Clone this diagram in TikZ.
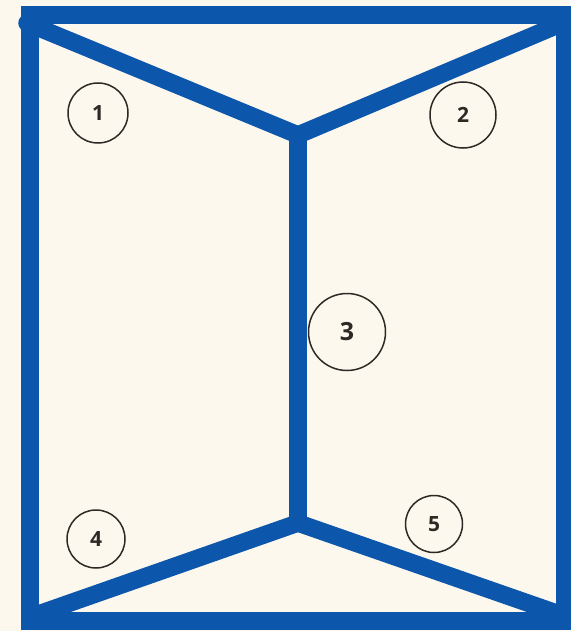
\documentclass[tikz,border=0pt]{standalone}
\usepackage{fontspec}
\setsansfont{Open Sans}
\usetikzlibrary{positioning}
\definecolor{frameBlue}{RGB}{12, 86, 172}
\definecolor{paper}{RGB}{253, 248, 238}
\definecolor{ink}{RGB}{45, 42, 38}

\begin{document}
\begin{tikzpicture}[x=1pt, y=-1pt,
    wall/.style={line width=17.5pt, frameBlue},
    num/.style={circle, draw=ink, line width=1.5pt, inner sep=0pt, text=ink,
                font=\sffamily\bfseries\fontsize{21}{21}\selectfont}]
  % Paper
  \fill[paper] (0,0) rectangle (570,631);
  \useasboundingbox (0,0) rectangle (570,631);

  % Corners and junctions
  \coordinate (tl) at (30,15);
  \coordinate (tr) at (565,15);
  \coordinate (bl) at (30,621);
  \coordinate (br) at (565,621);
  \coordinate (jt) at (298,135);
  \coordinate (jb) at (298,523);

  % Inner walls
  \draw[wall, line cap=round] (27,23) -- (jt);
  \draw[wall] (jt) -- (565,22);
  \draw[wall] (jt) -- (jb);
  \draw[wall] (jb) -- (30,617);
  \draw[wall] (jb) -- (565,616);

  % Outer frame
  \draw[wall, line join=miter] (tl) -- (tr) -- (br) -- (bl) -- cycle;

  % Room numbers
  \node[num, minimum size=60pt] (r1) at (98,113) {1};
  \node[num, minimum size=66pt] (r2) at (463,115) {2};
  \node[num, minimum size=77pt, font=\sffamily\bfseries\fontsize{25}{25}\selectfont] (r3) at (347,332) {3};
  \node[num, minimum size=58pt] (r4) at (96,539) {4};
  \node[num, minimum size=57pt] (r5) at (434,524) {5};
\end{tikzpicture}
\end{document}
